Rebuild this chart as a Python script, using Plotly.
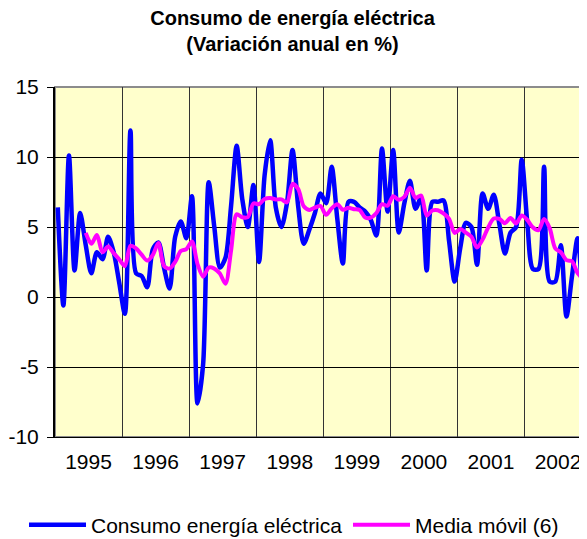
import plotly.graph_objects as go

# Monthly data, Jan 1995 - Nov 2002
consumo = [6.4, -0.6, 10.1, 1.9, 6.0, 3.7, 1.7, 3.2, 2.7, 4.3, 3.2, 1.0,
           -1.2, 11.9, 1.7, 1.5, 0.7, 3.4, 3.9, 2.1, 0.6, 4.3, 5.4, 4.2,
           7.2, -7.6, -4.8, 8.2, 5.0, 2.1, 2.8, 6.5, 10.8, 7.0, 5.0, 8.0,
           2.5, 8.7, 11.2, 6.4, 5.0, 6.7, 10.5, 6.5, 3.8, 4.8, 6.0, 7.4,
           6.7, 9.3, 5.6, 2.4, 6.8, 6.8, 6.4, 6.1, 5.5, 4.4, 10.6, 6.1,
           10.5, 4.6, 6.7, 8.3, 6.3, 7.1, 1.9, 6.8, 6.8, 6.9, 4.0, 1.1,
           3.5, 5.3, 5.0, 2.3, 7.4, 6.3, 7.3, 5.2, 3.1, 4.6, 5.0, 9.8,
           5.3, 2.0, 2.0, 9.3, 1.1, 1.1, 3.7, -1.4, 1.5, 4.2, -1.4]

media_movil = [None, None, None, None, None,
               4.58, 3.80, 4.43, 3.20, 3.60, 3.13, 2.68,
               2.20, 3.65, 3.48, 3.02, 2.60, 3.00, 3.85, 2.22, 2.03, 2.50, 3.28, 3.42,
               3.97, 2.35, 1.45, 2.10, 2.03, 1.68, 0.95, 3.30, 5.90, 5.70, 5.70, 6.68,
               6.63, 7.00, 7.07, 6.97, 6.97, 6.75, 8.08, 7.72, 6.48, 6.22, 6.38, 6.50,
               5.87, 6.33, 6.63, 6.23, 6.37, 6.27, 6.22, 5.68, 5.67, 6.00, 6.63, 6.52,
               7.20, 6.95, 7.15, 7.80, 7.08, 7.25, 5.82, 6.18, 6.20, 5.97, 5.58, 4.58,
               4.85, 4.60, 4.30, 3.53, 4.10, 4.97, 5.60, 5.58, 5.27, 5.65, 5.25, 5.83,
               5.50, 4.97, 4.78, 5.57, 4.92, 3.47, 3.20, 2.63, 2.55, 1.70, 1.28]

years = ["1995", "1996", "1997", "1998", "1999", "2000", "2001", "2002"]
y_ticks = [15, 10, 5, 0, -5, -10]
y_tick_text = ["15", "10", "5", "0", "-5", "-10"]

n = len(consumo)
months = list(range(n))
year_centers = [12 * k + 5.5 for k in range(len(years))]
year_bounds = [12 * k - 0.5 for k in range(1, len(years))]

FONT = "Liberation Sans, Arial, sans-serif"
# the page body adds an 8px margin, so the figure is 8px smaller than the window
W, H = 579, 531

fig = go.Figure()
fig.add_trace(go.Scatter(x=months, y=consumo, mode="lines",
                         name="Consumo energía eléctrica", legend="legend",
                         line=dict(color="#0000FF", width=4.5, shape="spline", smoothing=0.8)))
fig.add_trace(go.Scatter(x=months, y=media_movil, mode="lines",
                         name="Media móvil (6)", legend="legend2",
                         line=dict(color="#FF00FF", width=4, shape="spline", smoothing=0.8)))

fig.add_shape(type="rect", xref="paper", yref="paper", x0=0, y0=0, x1=1, y1=1,
              line=dict(color="#8c8c8c", width=2), layer="below")

legend_common = dict(orientation="h", xref="container", yref="container",
                     xanchor="left", yanchor="middle", y=1 - 517 / H,
                     font=dict(family=FONT, size=21, color="black"),
                     itemwidth=57, bgcolor="rgba(0,0,0,0)", borderwidth=0)

fig.update_layout(
    width=W, height=H,
    paper_bgcolor="white", plot_bgcolor="#FFFFCC",
    margin=dict(l=47, r=1, t=79, b=102, autoexpand=False),
    font=dict(family=FONT, size=20, color="black"),
    title=dict(text="<b>Consumo de energía eléctrica<br>(Variación anual en %)</b>",
               x=284.5 / W, xanchor="center", xref="container",
               y=1 - 17.2 / H, yanchor="top", yref="container",
               font=dict(family=FONT, size=20, color="black")),
    showlegend=True,
    legend=dict(legend_common, x=16 / W),
    legend2=dict(legend_common, x=340 / W),
    xaxis=dict(range=[-0.5, n - 0.5], tickmode="array", tickvals=year_centers,
               ticktext=years, showgrid=False, zeroline=False, ticks="",
               ticklabelstandoff=6, showline=True, linecolor="black", linewidth=1,
               automargin=False,
               tickfont=dict(family=FONT, size=21, color="black"),
               minor=dict(tickmode="array", tickvals=year_bounds, showgrid=True,
                          gridcolor="#333333", gridwidth=1, ticks="")),
    yaxis=dict(range=[-10, 15], tickmode="array", tickvals=y_ticks, ticktext=y_tick_text,
               showgrid=True, gridcolor="black", gridwidth=1, zeroline=False,
               showline=True, linecolor="black", linewidth=2, automargin=False,
               ticks="outside", ticklen=6, tickcolor="black", tickwidth=1,
               ticklabelstandoff=4,
               tickfont=dict(family=FONT, size=21, color="black")),
)

fig.write_html("out.html")
